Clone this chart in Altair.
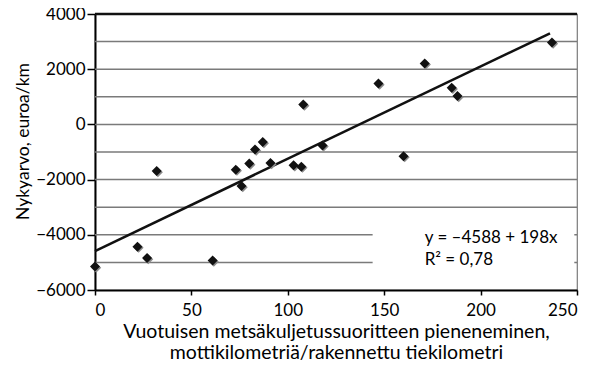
import altair as alt
import pandas as pd

# scatter data
x_vals = [0, 22, 27, 32, 61, 73, 76, 80, 83, 87, 91, 103, 107, 108, 118, 147, 160, 171, 185, 188, 237]
y_vals = [-5150, -4430, -4840, -1690, -4930, -1640, -2230, -1420, -910, -640, -1400,
          -1480, -1530, 720, -760, 1480, -1150, 2210, 1330, 1030, 2970]

# regression line end points
line_x = [0, 236]
line_y = [-4588, 3300]

# horizontal grid levels
grid_levels = [-5000, -4000, -3000, -2000, -1000, 0, 1000, 2000, 3000]

# tick labels
x_ticks = [0, 50, 100, 150, 200, 250]
y_ticks = [-6000, -4000, -2000, 0, 2000, 4000]

# annotation
ann_text = ["y = –4588 + 198x", "R² = 0,78"]
ann_x = [171, 171]
ann_y = [-4280, -5090]

# white box behind annotation
box_x = [144]
box_x2 = [248.6]
box_y = [-3500]
box_y2 = [-5700]

FONT = "Lato"
W, H = 482, 276

xscale = alt.Scale(domain=[0, 250], nice=False, zero=False)
yscale = alt.Scale(domain=[-6000, 4000], nice=False, zero=False)

xaxis = alt.Axis(values=x_ticks, grid=False, domainColor="black", domainWidth=2,
                 tickColor="black", tickSize=5, tickWidth=1.5, labelFont=FONT,
                 labelFontSize=17, labelColor="black", labelPadding=7, format="d",
                 title=["Vuotuisen metsäkuljetussuoritteen pieneneminen,",
                        "mottikilometriä/rakennettu tiekilometri"],
                 titleFont=FONT, titleFontSize=19.5, titleFontWeight="normal",
                 titleColor="black", titleY=32, titleLineHeight=21)
yaxis = alt.Axis(values=y_ticks, grid=False, domainColor="black", domainWidth=2,
                 tickColor="black", tickSize=8, tickWidth=1.5, labelFont=FONT,
                 labelFontSize=17, labelColor="black", labelPadding=2, format="d",
                 title="Nykyarvo, euroa/km", titleFont=FONT, titleFontSize=17.5,
                 titleFontWeight="normal", titleColor="black",
                 titleX=-63, titleY=127)

X = lambda f: alt.X(f, type="quantitative", scale=xscale, axis=xaxis)
Y = lambda f: alt.Y(f, type="quantitative", scale=yscale, axis=yaxis)

pts = pd.DataFrame({"x": x_vals, "y": y_vals})
line_df = pd.DataFrame({"x": line_x, "y": line_y})
grid_df = pd.DataFrame({"y": grid_levels, "x": [0] * len(grid_levels), "x2": [250] * len(grid_levels)})
ann_df = pd.DataFrame({"x": ann_x, "y": ann_y, "t": ann_text})
box_df = pd.DataFrame({"x": box_x, "x2": box_x2, "y": box_y, "y2": box_y2})
top_df = pd.DataFrame({"x": [0], "x2": [250], "y": [4000]})

grid = alt.Chart(grid_df).mark_rule(color="#7a7a7a", strokeWidth=1.5).encode(
    x=X("x"), x2="x2", y=Y("y"))
box = alt.Chart(box_df).mark_rect(color="white").encode(
    x=X("x"), x2="x2", y=Y("y"), y2="y2")
reg = alt.Chart(line_df).mark_line(color="#111111", strokeWidth=2.5).encode(
    x=X("x"), y=Y("y"))
shadow = alt.Chart(pts).mark_point(shape="diamond", filled=True, color="#8a8a8a",
                                   size=100, opacity=1, xOffset=1.2, yOffset=1.2).encode(
    x=X("x"), y=Y("y"))
points = alt.Chart(pts).mark_point(shape="diamond", filled=True, color="#111111",
                                   size=100, opacity=1).encode(
    x=X("x"), y=Y("y"))
top = alt.Chart(top_df).mark_rule(color="#111111", strokeWidth=2.5).encode(
    x=X("x"), x2="x2", y=Y("y"))
ann = alt.Chart(ann_df).mark_text(align="left", baseline="alphabetic", font=FONT,
                                  fontSize=17, color="black").encode(
    x=X("x"), y=Y("y"), text="t")

chart = alt.layer(grid, box, reg, shadow, points, top, ann).properties(
    width=W, height=H,
    padding={"left": 87, "top": 6, "right": 20, "bottom": 78},
    autosize="none",
).configure_view(stroke="#7a7a7a", strokeWidth=1.2)

chart.save("out.html", embed_options={"renderer": "svg", "actions": False})
